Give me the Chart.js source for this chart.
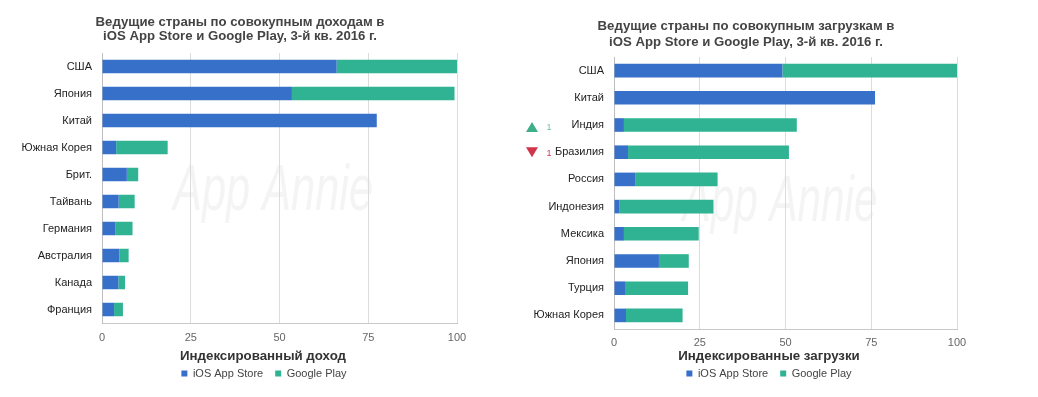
<!DOCTYPE html>
<html>
<head>
<meta charset="utf-8">
<script src="https://cdn.jsdelivr.net/npm/chart.js@4.4.0/dist/chart.umd.min.js"></script>
<style>
  html, body { margin: 0; padding: 0; background: #fff; }
  body { width: 1038px; height: 397px; position: relative; overflow: hidden; }
  canvas { position: absolute; top: 0; }
  #revenue { left: 0; }
  #downloads { left: 505px; }
</style>
</head>
<body>
<canvas id="revenue" width="528" height="397"></canvas>
<canvas id="downloads" width="528" height="397"></canvas>
<script>
// ---- data ----
const revenueCountries = ["США", "Япония", "Китай", "Южная Корея", "Брит.", "Тайвань", "Германия", "Австралия", "Канада", "Франция"];
const revenueIos  = [66.1, 53.5, 77.4, 4.0, 7.0, 4.7, 3.7, 4.9, 4.6, 3.4];
const revenuePlay = [33.9, 45.8, 0, 14.5, 3.2, 4.5, 4.9, 2.6, 1.9, 2.5];

const downloadCountries = ["США", "Китай", "Индия", "Бразилия", "Россия", "Индонезия", "Мексика", "Япония", "Турция", "Южная Корея"];
const downloadIos  = [49.1, 76.1, 2.9, 4.1, 6.3, 1.5, 2.9, 13.1, 3.2, 3.5];
const downloadPlay = [50.9, 0, 50.4, 46.9, 23.9, 27.5, 21.8, 8.7, 18.4, 16.5];
const rankChange = [0, 0, 1, -1, 0, 0, 0, 0, 0, 0];

const xTicks = [0, 25, 50, 75, 100];
const seriesNames = ["iOS App Store", "Google Play"];

const blue = "#3670c9";
const green = "#2fb393";
const font = "'Liberation Sans', Arial, sans-serif";

// titles, watermark, axis title, rank arrows
const decor = {
  id: "decor",
  beforeDraw(chart, args, o) {
    const ctx = chart.ctx;
    ctx.save();
    ctx.font = "italic 64px 'Liberation Sans Narrow', 'Liberation Sans', sans-serif";
    const w = ctx.measureText("App Annie").width;
    ctx.translate(o.markX, o.markY);
    ctx.scale(o.markW / w, 1);
    ctx.fillStyle = "#f4f4f5";
    ctx.textAlign = "center";
    ctx.textBaseline = "middle";
    ctx.fillText("App Annie", 0, 0);
    ctx.restore();
  },
  afterDraw(chart, args, o) {
    const ctx = chart.ctx;
    ctx.save();
    ctx.fillStyle = "#444";
    ctx.textAlign = "center";
    ctx.textBaseline = "middle";
    ctx.font = "bold 13.2px " + font;
    o.title.forEach((line, i) => ctx.fillText(line, o.titleX, o.titleY[i]));
    ctx.fillStyle = "#333";
    ctx.font = "bold 13.3px " + font;
    ctx.fillText(o.axisTitle, o.axisX, o.axisY);

    if (o.ranks) {
      const y = chart.scales.y;
      o.ranks.forEach((r, i) => {
        if (!r) return;
        const py = y.getPixelForValue(i);
        ctx.fillStyle = r > 0 ? "#3db088" : "#d0354b";
        ctx.beginPath();
        if (r > 0) {
          ctx.moveTo(o.rankX - 6, py + 7);
          ctx.lineTo(o.rankX + 6, py + 7);
          ctx.lineTo(o.rankX, py - 3);
        } else {
          ctx.moveTo(o.rankX - 6, py - 5);
          ctx.lineTo(o.rankX + 6, py - 5);
          ctx.lineTo(o.rankX, py + 5);
        }
        ctx.fill();
        ctx.font = "9px " + font;
        ctx.fillStyle = r > 0 ? "#6cbf9f" : "#d0354b";
        ctx.fillText(String(Math.abs(r)), o.rankX + 17, py + (r > 0 ? 3 : 1));
      });
    }
    ctx.restore();
  }
};

function makeChart(id, labels, ios, play, d) {
  return new Chart(document.getElementById(id), {
    type: "bar",
    data: {
      labels: labels,
      datasets: [
        { label: seriesNames[0], data: ios, backgroundColor: blue },
        { label: seriesNames[1], data: play, backgroundColor: green }
      ]
    },
    options: {
      indexAxis: "y",
      responsive: false,
      animation: false,
      barPercentage: 0.5,
      categoryPercentage: 1,
      layout: { padding: { top: d.top, bottom: d.bottom, left: 0, right: 0 } },
      scales: {
        x: {
          stacked: true,
          min: 0,
          max: 100,
          afterBuildTicks: s => { s.ticks = xTicks.map(v => ({ value: v })); },
          afterFit: s => { s.height = d.xHeight; },
          grid: { color: "#dcdcdc", drawTicks: false },
          border: { color: "#c8c8c8" },
          ticks: { color: "#666", font: { size: 11, family: font }, padding: d.tickPad }
        },
        y: {
          stacked: true,
          afterFit: s => { s.width = d.left; },
          grid: { display: false, drawTicks: false },
          border: { color: "#bdbdbd" },
          ticks: { color: "#222", font: { size: 11, family: font }, padding: 10 }
        },
        pad: {
          type: "category",
          position: "right",
          labels: labels,
          afterFit: s => { s.width = d.right; },
          grid: { display: false },
          border: { display: false },
          ticks: { display: false }
        }
      },
      plugins: {
        legend: {
          position: "bottom",
          labels: { boxWidth: 6, boxHeight: 6, padding: 12, color: "#444", font: { size: 11, family: font } }
        },
        tooltip: { enabled: false },
        decor: d.decor
      }
    },
    plugins: [decor]
  });
}

makeChart("revenue", revenueCountries, revenueIos, revenuePlay, {
  top: 53, bottom: 8, xHeight: 33, left: 102, right: 71, tickPad: 8,
  decor: {
    title: ["Ведущие страны по совокупным доходам в", "iOS App Store и Google Play, 3-й кв. 2016 г."],
    titleX: 240, titleY: [22, 36],
    axisTitle: "Индексированный доход", axisX: 263, axisY: 356,
    markX: 273, markY: 192, markW: 200
  }
});

makeChart("downloads", downloadCountries, downloadIos, downloadPlay, {
  top: 57, bottom: 8, xHeight: 27, left: 109, right: 76, tickPad: 7,
  decor: {
    title: ["Ведущие страны по совокупным загрузкам в", "iOS App Store и Google Play, 3-й кв. 2016 г."],
    titleX: 241, titleY: [26, 42],
    axisTitle: "Индексированные загрузки", axisX: 264, axisY: 356,
    markX: 275, markY: 203, markW: 195,
    ranks: rankChange, rankX: 27
  }
});
</script>
</body>
</html>
